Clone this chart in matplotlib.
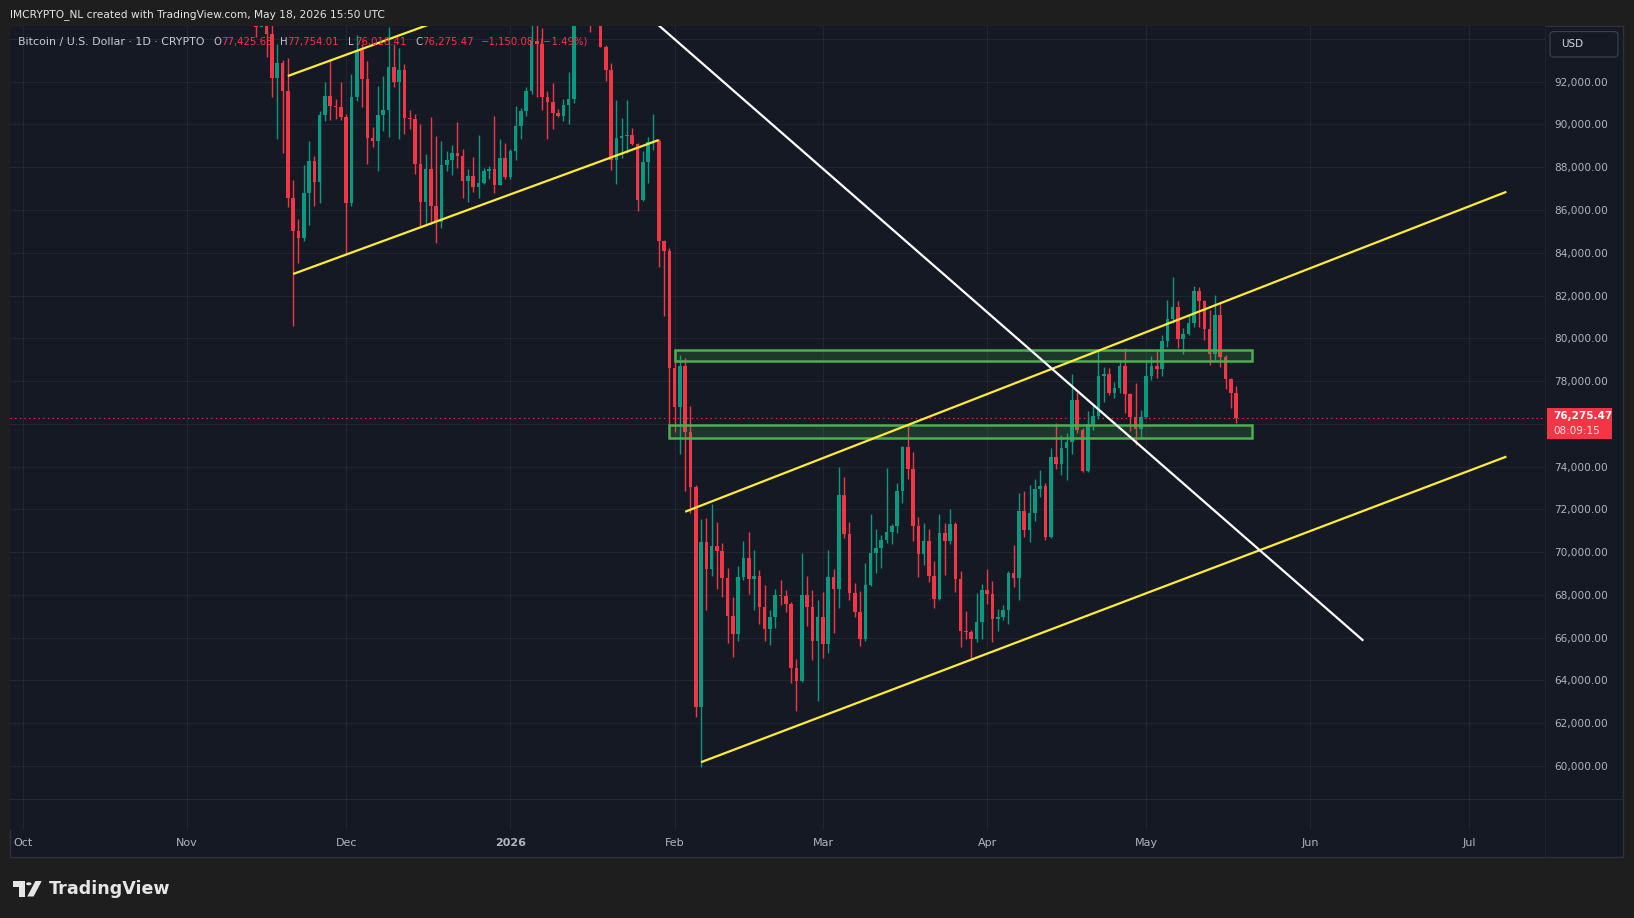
import numpy as np
import pandas as pd
import matplotlib
matplotlib.use("Agg")
import matplotlib.pyplot as plt
import matplotlib.dates as mdates
from matplotlib.patches import Rectangle, FancyBboxPatch, Polygon, Circle
from matplotlib.transforms import blended_transform_factory

W, H = 1634, 918

# ---------------- data (daily BTC candles) ----------------
start_date = "2025-11-14"
opens = [99700, 94540, 95550, 94230, 92160, 92870, 91550, 86540, 85000, 84670,
         86810, 88300, 87320, 90460, 91345, 90880, 90800, 90360, 86310, 91300,
         93480, 92125, 89350, 89240, 90460, 90680, 92700, 92000, 92550, 90290,
         90250, 88150, 86390, 87900, 86200, 85420, 88120, 88340, 88650, 88520,
         87370, 87590, 87090, 87260, 87840, 87900, 87170, 88430, 87540, 88740,
         89920, 90630, 91560, 93890, 93760, 91300, 91030, 90520, 90380, 90920,
         91190, 95400, 97000, 95600, 95500, 95100, 93640, 92560, 88350, 89350,
         89455, 89520, 89085, 86470, 88250, 89170, 89220, 84540, 84090, 78600,
         76800, 78690, 75640, 73040, 62770, 70470, 69190, 70270, 70050, 68790,
         67010, 66160, 68820, 69750, 68730, 68870, 67430, 66390, 66950, 67980,
         67950, 67560, 64560, 63980, 67980, 67430, 65850, 66950, 65710, 68820,
         68270, 72650, 70830, 68100, 67210, 65950, 68460, 69940, 70180, 70570,
         70930, 71220, 72860, 74940, 73890, 71220, 69910, 70520, 68900, 67810,
         70880, 70520, 71300, 68740, 66320, 66280, 65920, 66730, 68230, 68030,
         66890, 66950, 67290, 69040, 68800, 71930, 71040, 71820, 72950, 73100,
         70720, 74430, 74100, 74850, 75160, 77110, 75710, 73810, 75900, 76370,
         78240, 78330, 77430, 77690, 78710, 77400, 76340, 75760, 76330, 78240,
         78710, 78565, 79875, 80890, 81450, 79970, 80190, 80700, 82215, 81763,
         80437, 79267, 81092, 79111, 78097, 77425.68]
highs = [99900, 96000, 96600, 95900, 93760, 93030, 93110, 87400, 85590, 88120,
         89240, 88510, 90610, 91970, 93060, 91190, 92000, 90500, 92360, 94200,
         93760, 92980, 89860, 91810, 92280, 94540, 93760, 93570, 92830, 90680,
         90490, 90020, 88620, 90330, 89470, 89240, 88770, 89050, 90100, 88870,
         87930, 88480, 89510, 87950, 88040, 90380, 89300, 89130, 88830, 90850,
         90780, 91750, 94700, 94700, 94500, 91580, 91950, 90720, 91190, 92440,
         96300, 97900, 97200, 95900, 95600, 95500, 93700, 92860, 91160, 90300,
         91120, 89830, 89130, 88770, 89420, 90470, 89300, 84600, 84200, 79340,
         79230, 79080, 76850, 73160, 71560, 71600, 72230, 71390, 70450, 69250,
         67900, 69360, 70500, 70920, 70080, 69150, 68450, 67280, 68260, 68680,
         68210, 67670, 64990, 69950, 68870, 68210, 67740, 68160, 70080, 69220,
         74000, 73530, 71390, 68540, 68180, 69480, 71770, 71080, 70800, 73920,
         71320, 73220, 74980, 76000, 74700, 71660, 71350, 71080, 69580, 71780,
         71380, 72020, 71400, 69120, 67250, 66360, 68100, 68510, 69210, 68650,
         67330, 67530, 69120, 70330, 72780, 72880, 73140, 73420, 73840, 73220,
         74850, 76050, 75480, 75550, 78320, 77500, 75790, 76600, 76930, 79490,
         78670, 78600, 77960, 78990, 79530, 77460, 77900, 76650, 78910, 79170,
         79450, 80160, 81790, 82860, 81760, 80470, 81090, 82450, 82390, 81800,
         81330, 82030, 81685, 79220, 78130, 77754.01]
lows = [94070, 94650, 93140, 91270, 89320, 88650, 86120, 80590, 83500, 84550,
        85280, 86200, 86310, 90180, 90220, 90240, 90200, 83890, 86200, 91110,
        90800, 88150, 88960, 87810, 89710, 89400, 91730, 89320, 89550, 89790,
        87680, 85230, 85230, 85340, 84440, 85160, 87840, 87650, 87960, 86540,
        86360, 86830, 86570, 87200, 87430, 86790, 87150, 87460, 87450, 88350,
        89330, 90400, 91400, 91300, 90670, 89300, 89770, 90330, 90180, 90000,
        90990, 94900, 95000, 94300, 94900, 93600, 92015, 87880, 87200, 88440,
        88680, 89050, 85950, 86430, 87240, 88800, 83320, 81050, 75700, 75640,
        74600, 72880, 71830, 62300, 59970, 67280, 68870, 68260, 67900, 65750,
        65100, 65850, 68680, 68025, 67280, 66620, 65830, 65640, 66450, 67510,
        67180, 63890, 62580, 63930, 66550, 64980, 63050, 65050, 65300, 66220,
        67390, 70660, 67780, 66980, 65610, 65860, 68400, 69010, 69270, 70410,
        70380, 70910, 72320, 73420, 70520, 68850, 69400, 68620, 67400, 67760,
        68930, 70380, 68150, 65580, 65920, 64980, 65780, 65950, 67560, 65780,
        66310, 66830, 66640, 68350, 67760, 70720, 70490, 71470, 72560, 70570,
        70640, 73880, 73600, 73370, 74590, 75550, 73760, 73760, 75710, 76210,
        77040, 77350, 77220, 77430, 76490, 75660, 75010, 75320, 76250, 78050,
        78130, 78240, 79610, 80700, 79530, 79250, 80150, 80550, 80550, 79920,
        78750, 78986, 78674, 77630, 76720, 76018.41]
closes = [94540, 95550, 94230, 92160, 92870, 91550, 86540, 85000, 84670, 86810,
          88300, 87320, 90460, 91345, 90880, 90800, 90360, 86310, 91300, 93480,
          92125, 89350, 89240, 90460, 90680, 92700, 92000, 92550, 90290, 90250,
          88150, 86390, 87900, 86200, 85420, 88120, 88340, 88650, 88520, 87370,
          87590, 87090, 87260, 87840, 87900, 87170, 88430, 87540, 88740, 89920,
          90630, 91560, 93890, 93760, 91300, 91030, 90520, 90380, 90920, 91190,
          95400, 97000, 95600, 95500, 95100, 93640, 92560, 88350, 89350, 89455,
          89520, 89085, 86470, 88250, 89170, 89220, 84540, 84090, 78600, 76800,
          78690, 75640, 73040, 62770, 70470, 69190, 70270, 70050, 68790, 67010,
          66160, 68820, 69750, 68730, 68870, 67430, 66390, 66950, 67980, 67950,
          67560, 64560, 63980, 67980, 67430, 65850, 66950, 65710, 68820, 68270,
          72650, 70830, 68100, 67210, 65950, 68460, 69940, 70180, 70570, 70930,
          71220, 72860, 74940, 73890, 71220, 69910, 70520, 68900, 67810, 70880,
          70520, 71300, 68740, 66320, 66280, 65920, 66730, 68230, 68030, 66890,
          66950, 67290, 69040, 68800, 71930, 71040, 71820, 72950, 73100, 70720,
          74430, 74100, 74850, 75160, 77110, 75710, 73810, 75980, 76370, 78240,
          78330, 77430, 77690, 78710, 77400, 76340, 75760, 76330, 78240, 78710,
          78565, 79875, 80890, 81450, 79970, 80190, 80700, 82215, 81763, 80437,
          79267, 81092, 79111, 78097, 77425.68, 76275.47]

# price scale labels (76,000 is covered by the last-price tag in the reference)
price_ticks = [60000, 62000, 64000, 66000, 68000, 70000, 72000, 74000,
               78000, 80000, 82000, 84000, 86000, 88000, 90000, 92000]
grid_levels = list(range(60000, 96000, 2000))
month_starts = ["2025-10-01", "2025-11-01", "2025-12-01", "2026-01-01", "2026-02-01",
                "2026-03-01", "2026-04-01", "2026-05-01", "2026-06-01", "2026-07-01"]
month_labels = ["Oct", "Nov", "Dec", "2026", "Feb", "Mar", "Apr", "May", "Jun", "Jul"]

# drawings: (date, price) anchors
yellow_lines = [
    (["2025-11-20", "2025-12-18"], [92265, 94796]),
    (["2025-11-21", "2026-01-29"], [83007, 89273]),
    (["2026-02-03", "2026-07-08"], [71890, 86850]),
    (["2026-02-06", "2026-07-08"], [60180, 74468]),
]
white_line = (["2026-01-28", "2026-06-11"], [94850, 65860])
zones = [
    ("2026-02-01", "2026-05-21", 78925, 79440),
    ("2026-01-31", "2026-05-21", 75338, 75932),
]
last_price = 76275.47

# ---------------- styling ----------------
BG_OUT = "#1e1e1e"
BG = "#151924"
GRID = "#212532"
TXT = "#b2b5be"
UP = "#089981"
DN = "#f23645"
YEL = "#ffeb3b"

n = len(opens)
assert n == len(highs) == len(lows) == len(closes)
dates = pd.date_range(start_date, periods=n, freq="D")
x = mdates.date2num(dates)
o = np.array(opens, float); h = np.array(highs, float)
l = np.array(lows, float); c = np.array(closes, float)

fig = plt.figure(figsize=(W / 100, H / 100), dpi=100, facecolor=BG_OUT)

def fx(px):
    return px / W

def fy(py):
    return 1 - py / H

# pane background
fig.patches.append(Rectangle((fx(9.5), fy(857)), (1623 - 9.5) / W, (857 - 26) / H,
                             transform=fig.transFigure, facecolor=BG,
                             edgecolor="#2f3138", linewidth=1.0, zorder=-5))

PL, PR, PT, PB = 9.5, 1545, 26, 830
ax = fig.add_axes([fx(PL), fy(PB), (PR - PL) / W, (PB - PT) / H])
ax.set_zorder(1)
ax.set_facecolor(BG)
for s in ax.spines.values():
    s.set_visible(False)

feb1 = mdates.date2num(pd.Timestamp("2026-02-01"))
ax.set_xlim(feb1 - 125.54, feb1 + 164.29)
ax.set_ylim(57008, 94603)

# grid
for g in grid_levels:
    ax.axhline(g, color=GRID, lw=0.8, zorder=0.5)
mx = mdates.date2num(pd.to_datetime(month_starts))
for m in mx:
    ax.axvline(m, color=GRID, lw=0.8, zorder=0.5)

# candles
up = c >= o
cols = np.where(up, UP, DN)
ax.vlines(x, l, h, colors=cols, linewidth=1.0, zorder=3)
body_lo = np.minimum(o, c)
body_h = np.maximum(np.abs(c - o), 45)
ax.bar(x, body_h, bottom=body_lo, width=0.68, color=cols, linewidth=0, zorder=3.1)

# zones
for d0, d1, p0, p1 in zones:
    x0 = mdates.date2num(pd.Timestamp(d0)); x1 = mdates.date2num(pd.Timestamp(d1))
    ax.add_patch(Rectangle((x0, p0), x1 - x0, p1 - p0, facecolor="#4caf50", alpha=0.2,
                           edgecolor="none", zorder=4))
    ax.add_patch(Rectangle((x0, p0), x1 - x0, p1 - p0, facecolor="none",
                           edgecolor="#4caf50", linewidth=1.8, zorder=4.1))

# trend lines
for ds, ps in yellow_lines:
    ax.plot(mdates.date2num(pd.to_datetime(ds)), ps, color=YEL, lw=1.6,
            solid_capstyle="butt", zorder=5)
ax.plot(mdates.date2num(pd.to_datetime(white_line[0])), white_line[1], color="#ffffff",
        lw=1.6, solid_capstyle="butt", zorder=5)

# last price dotted line
ax.axhline(last_price, color=DN, lw=0.8, linestyle=(0, (1.2, 3)), zorder=2)

# y axis labels on right
ax.yaxis.tick_right()
ax.set_yticks(price_ticks)
ax.set_yticklabels([f"{v:,.2f}" for v in price_ticks])
ax.tick_params(axis="y", length=0, pad=6.5, labelsize=7.6, labelcolor=TXT)
ax.set_xticks([])

# month labels
tr = blended_transform_factory(ax.transData, ax.transAxes)
ylab = (PB - 843.5) / (PB - PT)
for m, lab in zip(mx, month_labels):
    ax.text(m, ylab, lab, transform=tr, ha="center", va="center", fontsize=8,
            color=TXT, fontweight="bold" if lab == "2026" else "normal", clip_on=False)

# separators
fig.lines.append(plt.Line2D([fx(9.5), fx(1623)], [fy(799), fy(799)],
                            transform=fig.transFigure, color="#262a35", lw=0.8, zorder=2))
fig.lines.append(plt.Line2D([fx(PR), fx(PR)], [fy(26), fy(857)],
                            transform=fig.transFigure, color="#1f2330", lw=0.8, zorder=2))

renderer = fig.canvas.get_renderer()

def fit_text(px, py, s, target_w, base=8, **kw):
    t = fig.text(fx(px), fy(py), s, ha="left", va="center", fontsize=base, zorder=6, **kw)
    w = t.get_window_extent(renderer).width
    t.set_fontsize(base * target_w / w)
    return t

# header
fit_text(9.8, 14.5, "IMCRYPTO_NL created with TradingView.com, May 18, 2026 15:50 UTC",
         376, color="#e4e5e8")

# legend row
LGRAY = "#c9ccd4"
fit_text(17.9, 41.7, "Bitcoin / U.S. Dollar · 1D · CRYPTO", 186, base=7.5, color=LGRAY)
pieces = [("O", 213.4, LGRAY), ("77,425.68", 221, DN), ("H", 280, LGRAY),
          ("77,754.01", 287, DN), ("L", 347.8, LGRAY), ("76,018.41", 355, DN),
          ("C", 415, LGRAY), ("76,275.47", 422, DN), ("\u22121,150.08", 481, DN),
          ("(\u22121.49%)", 539, DN)]
for s, px, col in pieces:
    fig.text(fx(px), fy(41.7), s, ha="left", va="center", fontsize=7.3, color=col, zorder=6)

# USD box
fig.patches.append(FancyBboxPatch((fx(1550), fy(57)), (1618 - 1550) / W, (57 - 31.5) / H,
                                  boxstyle="round,pad=0,rounding_size=0.003",
                                  transform=fig.transFigure, facecolor=BG,
                                  edgecolor="#3a3e4a", linewidth=0.9, zorder=5))
fig.text(fx(1561), fy(44), "USD", ha="left", va="center", fontsize=7.5, color="#d1d4dc",
         zorder=6)

# last price tag
fig.patches.append(Rectangle((fx(1546.6), fy(438.7)), (1612 - 1546.6) / W,
                             (438.7 - 408.5) / H, transform=fig.transFigure,
                             facecolor=DN, edgecolor="none", zorder=5))
fig.text(fx(1553.5), fy(416.3), f"{last_price:,.2f}", ha="left", va="center",
         fontsize=7.5, color="white", fontweight="bold", zorder=6)
fig.text(fx(1553.5), fy(430.5), "08:09:15", ha="left", va="center",
         fontsize=7.5, color="#ffe3e6", zorder=6)

# TradingView logo
LOGO = "#e6e6e6"
fig.patches.append(Polygon([(fx(12.5), fy(881)), (fx(24.5), fy(881)), (fx(24.5), fy(896.5)),
                            (fx(18.8), fy(896.5)), (fx(18.8), fy(886.5)), (fx(12.5), fy(886.5))],
                           closed=True, transform=fig.transFigure, facecolor=LOGO,
                           edgecolor="none", zorder=5))
fig.patches.append(Circle((fx(28.8), fy(883.8)), 2.7 / W, transform=fig.transFigure,
                          facecolor=LOGO, edgecolor="none", zorder=5))
fig.patches.append(Polygon([(fx(27.3), fy(896.5)), (fx(33.6), fy(896.5)), (fx(41.7), fy(881)),
                            (fx(35.4), fy(881))], closed=True, transform=fig.transFigure,
                           facecolor=LOGO, edgecolor="none", zorder=5))
fit_text(48.5, 888.5, "TradingView", 121, base=12, color=LOGO, fontweight="bold")

fig.savefig("out.png", dpi=100, facecolor=fig.get_facecolor())
